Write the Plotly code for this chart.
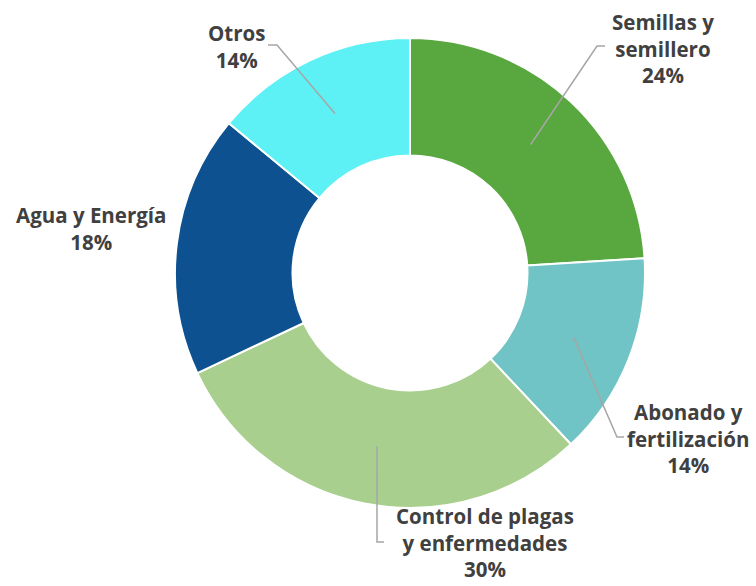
import math
import plotly.graph_objects as go

# ---- data ----
labels = ["Semillas y semillero", "Abonado y fertilización",
          "Control de plagas y enfermedades", "Agua y Energía", "Otros"]
label_lines = ["Semillas y<br>semillero", "Abonado y<br>fertilización",
               "Control de plagas<br>y enfermedades", "Agua y Energía", "Otros"]
values = [24, 14, 30, 18, 14]
colors = ["#58a83f", "#70c4c5", "#a9cf8f", "#0d5191", "#5df1f5"]

# ---- layout settings (window pixels) ----
W, H = 756, 586
CX, CY, R_OUT = 410, 273, 235
HOLE = 0.5
label_pos = [(663, 48), (688, 438), (485, 542), (91, 229), (236, 47)]
# elbow & end of leader line per slice (None = no leader)
leader_pts = [[(597, 46), (605, 46)],
              [(617, 437), (624, 437)],
              [(377, 542), (384, 542)],
              None,
              [(277, 45), (268, 45)]]

def px(x):
    return x / W

def py(y):
    return 1 - y / H

fig = go.Figure(go.Pie(
    labels=labels, values=values, sort=False, direction="clockwise",
    rotation=0, hole=HOLE, textinfo="none", hoverinfo="label+percent",
    marker=dict(colors=colors, line=dict(color="white", width=2)),
    domain=dict(x=[px(CX - R_OUT), px(CX + R_OUT)],
                y=[py(CY + R_OUT), py(CY - R_OUT)]),
    showlegend=False,
))

total = sum(values)
cum = 0
shapes, annotations = [], []
r_mid = R_OUT * (1 + HOLE) / 2
for i, v in enumerate(values):
    mid = (cum + v / 2) / total * 2 * math.pi
    cum += v
    sx = CX + r_mid * math.sin(mid)
    sy = CY - r_mid * math.cos(mid)
    if leader_pts[i]:
        pts = [(sx, sy)] + leader_pts[i]
        path = "M " + " L ".join(f"{px(x)},{py(y)}" for x, y in pts)
        shapes.append(dict(type="path", xref="paper", yref="paper", path=path,
                           line=dict(color="#a6a6a6", width=1.5)))
    pct = f"{round(v / total * 100)}%"
    lx, ly = label_pos[i]
    annotations.append(dict(
        x=px(lx), y=py(ly), xref="paper", yref="paper",
        text=f"{label_lines[i]}<br>{pct}", showarrow=False,
        xanchor="center", yanchor="middle", align="center",
        font=dict(family="Open Sans", size=20.5, color="#404040", weight="bold"),
    ))

fig.update_layout(
    width=W, height=H, margin=dict(l=0, r=0, t=0, b=0),
    paper_bgcolor="white", plot_bgcolor="white",
    shapes=shapes, annotations=annotations,
)
fig.write_html(
    "out.html",
    config={"displayModeBar": False},
    post_script="document.body.style.margin='0';document.body.style.overflow='hidden';",
)
